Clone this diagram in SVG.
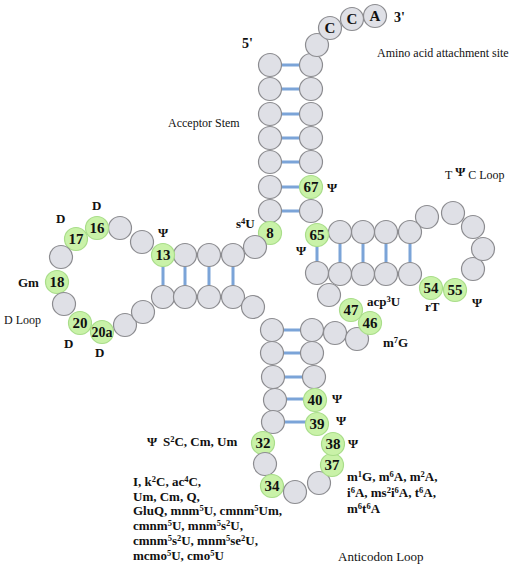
<svg xmlns="http://www.w3.org/2000/svg" width="520" height="568" viewBox="0 0 520 568">
<style>
.c{fill:#dfe0e6;stroke:#8c8c90;stroke-width:1.2}
.m{fill:#c9f2a8;stroke:#a9dd8a;stroke-width:1.2}
.n{font-family:"Liberation Serif","Times New Roman",serif;font-weight:bold;font-size:15px;fill:#111;text-anchor:middle}
.b{font-family:"Liberation Serif","Times New Roman",serif;font-weight:bold;font-size:13px;fill:#111}
.r{font-family:"Liberation Serif","Times New Roman",serif;font-size:12px;fill:#111}
.bp{stroke:#7ba4d8;stroke-width:3;fill:none}
.s{font-size:8.5px;baseline-shift:4px}
</style>
<rect width="520" height="568" fill="#fff"/>
<g id="connectors">
<path class="bp" d="M270 65H311M270 89H311M270 114H311M270 138H311M270 162H311M270 187H311M270 211H311"/>
<path class="bp" d="M163 255V297M185 255V297M209 255V297M233 255V297"/>
<path class="bp" d="M317 235V273M340 232V274M363 232V274M386 232V274M410 232V274"/>
<path class="bp" d="M272 330H312M272 353H312M273 377H314M275 399H315M273 422H317"/>
</g>
<g id="acceptor">
<g id="n1"><circle class="c" cx="270" cy="65" r="11.5"/></g>
<g id="n2"><circle class="c" cx="270" cy="89" r="11.5"/></g>
<g id="n3"><circle class="c" cx="270" cy="114" r="11.5"/></g>
<g id="n4"><circle class="c" cx="270" cy="138" r="11.5"/></g>
<g id="n5"><circle class="c" cx="270" cy="162" r="11.5"/></g>
<g id="n6"><circle class="c" cx="270" cy="187" r="11.5"/></g>
<g id="n7"><circle class="c" cx="270" cy="211" r="11.5"/></g>
<g id="n72"><circle class="c" cx="311" cy="65" r="11.5"/></g>
<g id="n71"><circle class="c" cx="311" cy="89" r="11.5"/></g>
<g id="n70"><circle class="c" cx="311" cy="114" r="11.5"/></g>
<g id="n69"><circle class="c" cx="311" cy="138" r="11.5"/></g>
<g id="n68"><circle class="c" cx="311" cy="162" r="11.5"/></g>
<g id="n67"><circle class="m" cx="311" cy="187" r="11.5"/><text class="n" x="311" y="192">67</text></g>
<g id="n66"><circle class="c" cx="311" cy="211" r="11.5"/></g>
<g id="n73"><circle class="c" cx="317" cy="45" r="11.5"/></g>
<g id="n74"><circle class="c" cx="330" cy="28" r="11.5"/><text class="n" x="330" y="33">C</text></g>
<g id="n75"><circle class="c" cx="352" cy="19" r="11.5"/><text class="n" x="352" y="24">C</text></g>
<g id="n76"><circle class="c" cx="375" cy="16" r="11.5"/><text class="n" x="375" y="21">A</text></g>
</g>
<g id="n8"><circle class="m" cx="270" cy="233" r="11.5"/><text class="n" x="270" y="238">8</text></g>
<g id="n9"><circle class="c" cx="255" cy="247" r="11.5"/></g>
<g id="dstem">
<g id="n10"><circle class="c" cx="233" cy="255" r="11.5"/></g>
<g id="n11"><circle class="c" cx="209" cy="255" r="11.5"/></g>
<g id="n12"><circle class="c" cx="185" cy="255" r="11.5"/></g>
<g id="n13"><circle class="m" cx="163" cy="255" r="11.5"/><text class="n" x="163" y="260">13</text></g>
<g id="n14"><circle class="c" cx="142" cy="242" r="11.5"/></g>
<g id="n15"><circle class="c" cx="120" cy="228" r="11.5"/></g>
<g id="n16"><circle class="m" cx="97" cy="228" r="11.5"/><text class="n" x="97" y="233">16</text></g>
<g id="n17"><circle class="m" cx="76" cy="239" r="11.5"/><text class="n" x="76" y="244">17</text></g>
<g id="n17a"><circle class="c" cx="61" cy="257" r="11.5"/></g>
<g id="n18"><circle class="m" cx="57" cy="282" r="11.5"/><text class="n" x="57" y="287">18</text></g>
<g id="n19"><circle class="c" cx="64" cy="304" r="11.5"/></g>
<g id="n20"><circle class="m" cx="80" cy="323" r="11.5"/><text class="n" x="80" y="328">20</text></g>
<g id="n20a"><circle class="m" cx="102" cy="332" r="11.5"/><text class="n" x="102" y="337" style="font-size:14px">20a</text></g>
<g id="n21"><circle class="c" cx="125" cy="325" r="11.5"/></g>
<g id="n21a"><circle class="c" cx="143" cy="312" r="11.5"/></g>
<g id="n22"><circle class="c" cx="163" cy="297" r="11.5"/></g>
<g id="n23"><circle class="c" cx="185" cy="297" r="11.5"/></g>
<g id="n24"><circle class="c" cx="209" cy="297" r="11.5"/></g>
<g id="n25"><circle class="c" cx="233" cy="297" r="11.5"/></g>
</g>
<g id="n26"><circle class="c" cx="253" cy="307" r="11.5"/></g>
<g id="anticodon">
<g id="n27"><circle class="c" cx="272" cy="330" r="11.5"/></g>
<g id="n28"><circle class="c" cx="272" cy="353" r="11.5"/></g>
<g id="n29"><circle class="c" cx="273" cy="377" r="11.5"/></g>
<g id="n30"><circle class="c" cx="275" cy="400" r="11.5"/></g>
<g id="n31"><circle class="c" cx="273" cy="422" r="11.5"/></g>
<g id="n43"><circle class="c" cx="312" cy="330" r="11.5"/></g>
<g id="n42"><circle class="c" cx="312" cy="353" r="11.5"/></g>
<g id="n41"><circle class="c" cx="314" cy="377" r="11.5"/></g>
<g id="n40"><circle class="m" cx="315" cy="400" r="11.5"/><text class="n" x="315" y="405">40</text></g>
<g id="n39"><circle class="m" cx="317" cy="424" r="11.5"/><text class="n" x="317" y="429">39</text></g>
<g id="n32"><circle class="m" cx="263" cy="443" r="11.5"/><text class="n" x="263" y="448">32</text></g>
<g id="n33"><circle class="c" cx="265" cy="464" r="11.5"/></g>
<g id="n34"><circle class="m" cx="272" cy="486" r="11.5"/><text class="n" x="272" y="491">34</text></g>
<g id="n35"><circle class="c" cx="295" cy="492" r="11.5"/></g>
<g id="n36"><circle class="c" cx="319" cy="483" r="11.5"/></g>
<g id="n37"><circle class="m" cx="332" cy="465" r="11.5"/><text class="n" x="332" y="470">37</text></g>
<g id="n38"><circle class="m" cx="333" cy="444" r="11.5"/><text class="n" x="333" y="449">38</text></g>
</g>
<g id="variable">
<g id="n44"><circle class="c" cx="335" cy="333" r="11.5"/></g>
<g id="n45"><circle class="c" cx="357" cy="339" r="11.5"/></g>
<g id="n46"><circle class="m" cx="370" cy="323" r="11.5"/><text class="n" x="370" y="328">46</text></g>
<g id="n47"><circle class="m" cx="351" cy="310" r="11.5"/><text class="n" x="351" y="315">47</text></g>
<g id="n48"><circle class="c" cx="329" cy="295" r="11.5"/></g>
</g>
<g id="tstem">
<g id="n49"><circle class="c" cx="317" cy="273" r="11.5"/></g>
<g id="n50"><circle class="c" cx="340" cy="274" r="11.5"/></g>
<g id="n51"><circle class="c" cx="363" cy="274" r="11.5"/></g>
<g id="n52"><circle class="c" cx="386" cy="274" r="11.5"/></g>
<g id="n53"><circle class="c" cx="410" cy="274" r="11.5"/></g>
<g id="n54"><circle class="m" cx="431" cy="288" r="11.5"/><text class="n" x="431" y="293">54</text></g>
<g id="n55"><circle class="m" cx="455" cy="290" r="11.5"/><text class="n" x="455" y="295">55</text></g>
<g id="n56"><circle class="c" cx="473" cy="269" r="11.5"/></g>
<g id="n57"><circle class="c" cx="483" cy="249" r="11.5"/></g>
<g id="n58"><circle class="c" cx="473" cy="227" r="11.5"/></g>
<g id="n59"><circle class="c" cx="453" cy="213" r="11.5"/></g>
<g id="n60"><circle class="c" cx="427" cy="217" r="11.5"/></g>
<g id="n61"><circle class="c" cx="410" cy="232" r="11.5"/></g>
<g id="n62"><circle class="c" cx="386" cy="232" r="11.5"/></g>
<g id="n63"><circle class="c" cx="363" cy="232" r="11.5"/></g>
<g id="n64"><circle class="c" cx="340" cy="232" r="11.5"/></g>
<g id="n65"><circle class="m" cx="317" cy="235" r="11.5"/><text class="n" x="317" y="240">65</text></g>
</g>
<g id="labels">
<text class="b" x="242" y="48" style="font-size:14px">5'</text>
<text class="b" x="394" y="22" style="font-size:14px">3'</text>
<text class="r" x="377" y="57">Amino acid attachment site</text>
<text class="r" x="168" y="127">Acceptor Stem</text>
<text class="r" x="445" y="179">T <tspan class="b" dy="-3" style="font-size:13px">Ψ</tspan><tspan dy="3"> C Loop</tspan></text>
<text class="b" x="327" y="192">Ψ</text>
<text class="b" x="236" y="228">s<tspan class="s">4</tspan>U</text>
<text class="b" x="296" y="255">Ψ</text>
<text class="b" x="158" y="237">Ψ</text>
<text class="b" x="92" y="210">D</text>
<text class="b" x="56" y="223">D</text>
<text class="b" x="18" y="287">Gm</text>
<text class="r" x="4" y="324">D Loop</text>
<text class="b" x="64" y="348">D</text>
<text class="b" x="95" y="357">D</text>
<text class="b" x="367" y="306">acp<tspan class="s">3</tspan>U</text>
<text class="b" x="425" y="311">rT</text>
<text class="b" x="472" y="307">Ψ</text>
<text class="b" x="383" y="347">m<tspan class="s">7</tspan>G</text>
<text class="b" x="332" y="403">Ψ</text>
<text class="b" x="336" y="425">Ψ</text>
<text class="b" x="348" y="448">Ψ</text>
<text class="b" x="147" y="446">Ψ</text>
<text class="b" x="163" y="446">S<tspan class="s">2</tspan>C, Cm, Um</text>
<text class="b" x="133" y="486">I, k<tspan class="s">2</tspan>C, ac<tspan class="s">4</tspan>C,</text>
<text class="b" x="133" y="501">Um, Cm, Q,</text>
<text class="b" x="133" y="515">GluQ, mnm<tspan class="s">5</tspan>U, cmnm<tspan class="s">5</tspan>Um,</text>
<text class="b" x="133" y="530">cmnm<tspan class="s">5</tspan>U, mnm<tspan class="s">5</tspan>s<tspan class="s">2</tspan>U,</text>
<text class="b" x="133" y="545">cmnm<tspan class="s">5</tspan>s<tspan class="s">2</tspan>U, mnm<tspan class="s">5</tspan>se<tspan class="s">2</tspan>U,</text>
<text class="b" x="133" y="560">mcmo<tspan class="s">5</tspan>U, cmo<tspan class="s">5</tspan>U</text>
<text class="b" x="347" y="481">m<tspan class="s">1</tspan>G, m<tspan class="s">6</tspan>A, m<tspan class="s">2</tspan>A,</text>
<text class="b" x="347" y="497">i<tspan class="s">6</tspan>A, ms<tspan class="s">2</tspan>i<tspan class="s">6</tspan>A, t<tspan class="s">6</tspan>A,</text>
<text class="b" x="347" y="513">m<tspan class="s">6</tspan>t<tspan class="s">6</tspan>A</text>
<text class="r" x="338" y="561" style="font-size:13px">Anticodon Loop</text>
</g>
</svg>
